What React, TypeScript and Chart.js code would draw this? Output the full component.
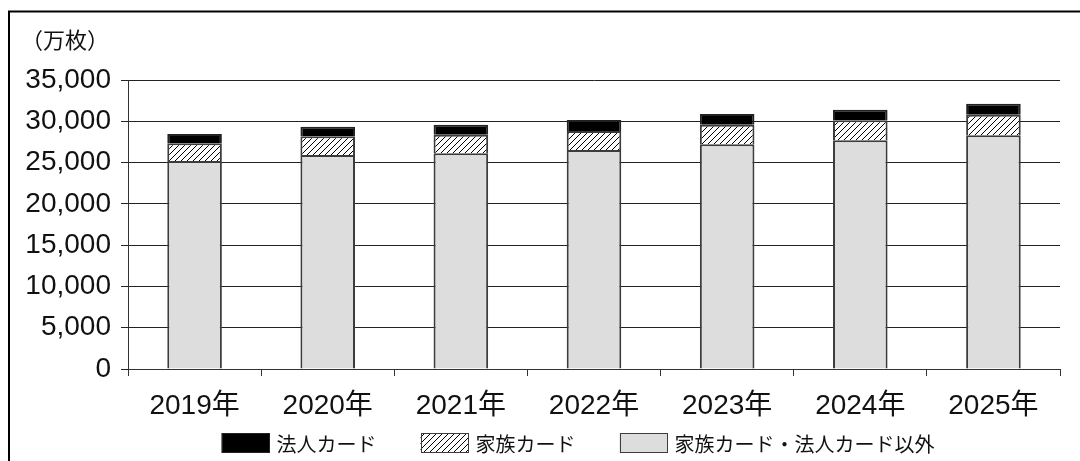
import { useEffect, useRef } from "react";
import { Chart, registerables } from "chart.js";

Chart.register(...registerables);

const years = ["2019年", "2020年", "2021年", "2022年", "2023年", "2024年", "2025年"];
const otherCards = [25190, 25920, 26120, 26520, 27210, 27700, 28300];
const familyCards = [2140, 2260, 2260, 2300, 2380, 2420, 2500];
const corporateCards = [1130, 1160, 1210, 1340, 1290, 1280, 1330];
const seriesLabels = ["家族カード・法人カード以外", "家族カード", "法人カード"];
const unitLabel = "（万枚）";
const yMax = 35000;
const yStep = 5000;

const FONT = '"Liberation Sans", "Noto Sans CJK JP", sans-serif';
const CJK_FONT = '"Noto Sans CJK JP", "Liberation Sans", sans-serif';

function makeHatch(): CanvasPattern | string {
  const c = document.createElement("canvas");
  c.width = 6;
  c.height = 6;
  const x = c.getContext("2d");
  if (!x) return "#888";
  x.fillStyle = "#fff";
  x.fillRect(0, 0, 6, 6);
  x.strokeStyle = "#000";
  x.lineWidth = 1;
  x.beginPath();
  x.moveTo(-1, 7);
  x.lineTo(7, -1);
  x.moveTo(-1, 1);
  x.lineTo(1, -1);
  x.moveTo(5, 7);
  x.lineTo(7, 5);
  x.stroke();
  return x.createPattern(c, "repeat") || "#888";
}

const framePlugin = {
  id: "frameAndUnit",
  beforeDraw(chart: any) {
    const ctx = chart.ctx;
    ctx.save();
    ctx.fillStyle = "#fff";
    ctx.fillRect(0, 0, chart.width, chart.height);
    ctx.strokeStyle = "#000";
    ctx.lineWidth = 2;
    ctx.beginPath();
    ctx.moveTo(9, chart.height + 2);
    ctx.lineTo(9, 11.5);
    ctx.lineTo(chart.width + 2, 11.5);
    ctx.stroke();
    ctx.fillStyle = "#111";
    ctx.font = `22px ${CJK_FONT}`;
    ctx.textBaseline = "middle";
    ctx.textAlign = "left";
    ctx.fillText(unitLabel, 21, 40);
    ctx.restore();
  },
};

const legendPlugin = {
  id: "boxLegend",
  afterDraw(chart: any) {
    const ctx = chart.ctx;
    const ca = chart.chartArea;
    const items = chart.data.datasets
      .map((d: any) => ({ label: d.label, fill: d.backgroundColor, stroke: d.borderColor }))
      .reverse();
    const boxW = 48;
    const boxH = 20;
    const textGap = 7;
    const itemGap = 44;
    ctx.save();
    ctx.font = `20px ${CJK_FONT}`;
    const widths = items.map((it: any) => boxW + textGap + ctx.measureText(it.label).width);
    const total = widths.reduce((a: number, b: number) => a + b, 0) + itemGap * (items.length - 1);
    const cx = (ca.left + ca.right) / 2 - 16;
    const cy = ca.bottom + 74;
    let x = cx - total / 2;
    items.forEach((it: any, i: number) => {
      ctx.fillStyle = it.fill;
      ctx.fillRect(x, cy - boxH / 2, boxW, boxH);
      ctx.strokeStyle = it.stroke;
      ctx.lineWidth = 1;
      ctx.strokeRect(Math.round(x) + 0.5, Math.round(cy - boxH / 2) + 0.5, boxW - 1, boxH - 1);
      ctx.fillStyle = "#111";
      ctx.textBaseline = "middle";
      ctx.textAlign = "left";
      ctx.fillText(it.label, x + boxW + textGap, cy + 1);
      x += widths[i] + itemGap;
    });
    ctx.restore();
  },
};

export default function App() {
  const ref = useRef<HTMLCanvasElement | null>(null);
  useEffect(() => {
    if (!ref.current) return;
    const hatch = makeHatch();
    const chart = new Chart(ref.current, {
      type: "bar",
      data: {
        labels: years,
        datasets: [
          {
            label: seriesLabels[0],
            data: otherCards,
            backgroundColor: "#dcdddc",
            borderColor: "#3c3c3c",
            borderWidth: 2,
          },
          {
            label: seriesLabels[1],
            data: familyCards,
            backgroundColor: hatch as any,
            borderColor: "#3c3c3c",
            borderWidth: 2,
          },
          {
            label: seriesLabels[2],
            data: corporateCards,
            backgroundColor: "#000",
            borderColor: "#222",
            borderWidth: 2,
          },
        ],
      },
      options: {
        responsive: false,
        animation: false,
        devicePixelRatio: 1,
        layout: { padding: { left: 0, right: 20, top: 80, bottom: 38 } },
        datasets: { bar: { barPercentage: 0.41, categoryPercentage: 1.0 } },
        plugins: {
          legend: { display: false },
          tooltip: { enabled: false },
          title: { display: false },
        },
        scales: {
          x: {
            stacked: true,
            grid: {
              display: true,
              drawOnChartArea: false,
              drawTicks: true,
              tickLength: 7,
              color: "#333",
              offset: true,
            },
            border: { display: true, color: "#333", width: 1 },
            ticks: {
              color: "#111",
              padding: 13,
              font: { family: FONT, size: 28 },
              maxRotation: 0,
              autoSkip: false,
            },
            afterFit: (s: any) => {
              s.height = 54;
            },
          },
          y: {
            stacked: true,
            min: 0,
            max: yMax,
            grid: {
              color: "#222",
              lineWidth: 1,
              drawTicks: true,
              tickLength: 7,
            },
            border: { display: true, color: "#333", width: 1 },
            ticks: {
              stepSize: yStep,
              color: "#111",
              padding: 10,
              font: { family: FONT, size: 28 },
              callback: (v: any) => Number(v).toLocaleString("en-US"),
            },
            afterFit: (s: any) => {
              s.width = 128;
            },
          },
        },
      },
      plugins: [framePlugin, legendPlugin],
    });
    return () => chart.destroy();
  }, []);
  return (
    <div style={{ position: "absolute", left: 0, top: 0, width: 1080, height: 461 }}>
      <canvas ref={ref} width={1080} height={461} style={{ width: 1080, height: 461, display: "block" }} />
    </div>
  );
}
